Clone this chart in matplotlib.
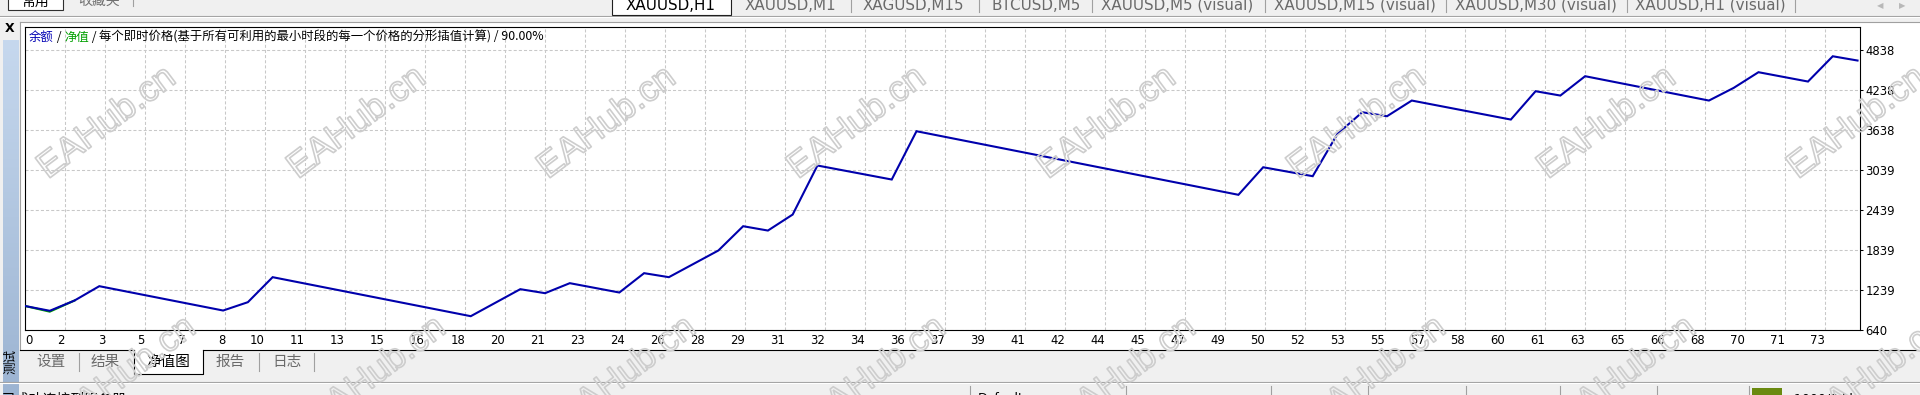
import matplotlib
matplotlib.use('Agg')
import numpy as np
import matplotlib.pyplot as plt
from matplotlib.patches import Rectangle
import matplotlib.patheffects as pe

plt.rcParams['lines.scale_dashes'] = False
plt.rcParams['font.family'] = ['DejaVu Sans']

# ---------------- data ----------------
trades = [0, 1, 2, 3, 8, 9, 10, 18, 20, 21, 22, 24, 25, 26, 27, 28, 29, 30, 31, 32,
          35, 36, 49, 50, 52, 53, 54, 55, 56, 60, 61, 62, 63, 68, 69, 70, 72, 73, 74]
balance = [1000, 928, 1082, 1297, 932, 1057, 1432, 847, 1252, 1192, 1342, 1202, 1492,
           1432, 1632, 1832, 2196, 2131, 2371, 3106, 2896, 3620, 2667, 3080, 2946, 3581,
           3905, 3845, 4080, 3795, 4220, 4155, 4445, 4080, 4270, 4505, 4365, 4744, 4680]
eq_trades = [0, 1, 2]
equity = [1000, 915, 1082]

x_tick_labels = ['0', '2', '3', '5', '7', '8', '10', '11', '13', '15', '16', '18', '20', '21',
                 '23', '24', '26', '28', '29', '31', '32', '34', '36', '37', '39', '41', '42',
                 '44', '45', '47', '49', '50', '52', '53', '55', '57', '58', '60', '61', '63',
                 '65', '66', '68', '70', '71', '73']
y_tick_labels = ['640', '1239', '1839', '2439', '3039', '3638', '4238', '4838']
Y_MIN = 640
Y_STEP = 599.7
X_MAX = 74.1

title_parts = ['余额', ' / ', '净值', ' / ',
               '每个即时价格(基于所有可利用的最小时段的每一个价格的分形插值计算) / 90.00%']
title_colors = ['#0000b4', '#000000', '#00a000', '#000000', '#000000']
symbol_tabs = ['XAUUSD,H1', 'XAUUSD,M1', 'XAGUSD,M15', 'BTCUSD,M5', 'XAUUSD,M5 (visual)',
               'XAUUSD,M15 (visual)', 'XAUUSD,M30 (visual)', 'XAUUSD,H1 (visual)']
bottom_tabs = ['设置', '结果', '净值图', '报告', '日志']
watermark = 'EAHub.cn'

CJK = ['Noto Sans CJK SC', 'DejaVu Sans']

# ---------------- figure ----------------
W, H = 1920, 395
fig = plt.figure(figsize=(W / 100, H / 100), dpi=100)
fig.patch.set_facecolor('#f0f0f0')

bg = fig.add_axes([0, 0, 1, 1], zorder=0)
bg.axis('off')

# left blue gradient strip
grad_top = np.array([0xc6, 0xd8, 0xee]) / 255
grad_bot = np.array([0x9c, 0xb4, 0xd2]) / 255
tt = np.linspace(0, 1, 200)[:, None, None]
grad = grad_top * (1 - tt) + grad_bot * tt
bg.imshow(grad, extent=(3, 19, 395, 40), origin='upper', aspect='auto', zorder=1)

bg.set_xlim(0, W)
bg.set_ylim(H, 0)

# chart window
bg.add_patch(Rectangle((20, 22), 1900, 328, fc='white', ec='none', zorder=1))
bg.plot([20, 20], [22, 350], color='#a0a0a0', lw=0.8, zorder=2)
bg.plot([20, 1920], [22, 22], color='#a0a0a0', lw=0.8, zorder=2)
# bottom border with opening for active tab
bg.plot([20, 134], [350, 350], color='#000000', lw=0.8, zorder=3)
bg.plot([203, 1920], [350, 350], color='#000000', lw=0.8, zorder=3)
bg.add_patch(Rectangle((134, 350), 69, 24, fc='white', ec='none', zorder=2))
bg.plot([134, 134, 203, 203], [350, 374, 374, 350], color='#000000', lw=0.8, zorder=3)

# top strip
bg.plot([0, 1920], [16, 16], color='#a0a0a0', lw=0.8, zorder=2)
bg.plot([0, 1920], [17, 17], color='#ffffff', lw=0.8, zorder=2)
bg.add_patch(Rectangle((8, -5), 55, 15, fc='white', ec='#303030', lw=0.8, zorder=2))
bg.text(35.5, 2, '常用', family=CJK, fontsize=10, color='#000000', ha='center', va='center', zorder=3)
bg.text(99, 1, '收藏夹', family=CJK, fontsize=10, color='#707070', ha='center', va='center', zorder=3)
bg.plot([133, 133], [0, 6], color='#a0a0a0', lw=0.8, zorder=2)

tab_centers = [671, 790, 913, 1036, 1177, 1355, 1536, 1710]
bg.add_patch(Rectangle((612, -3), 119, 18, fc='white', ec='#202020', lw=0.8, zorder=2))
for i, (lab, cx) in enumerate(zip(symbol_tabs, tab_centers)):
    bg.text(cx, 5, lab, fontsize=10.9, color='#000000' if i == 0 else '#6a6a6a',
            ha='center', va='center', zorder=3)
for sx in [851, 979, 1092, 1265, 1446, 1627, 1795]:
    bg.plot([sx, sx], [0, 12], color='#a0a0a0', lw=0.8, zorder=2)
bg.text(1880, 6, '◀', fontsize=6, color='#b8b8b8', ha='center', va='center', zorder=3)
bg.text(1902, 6, '▶', fontsize=6, color='#b8b8b8', ha='center', va='center', zorder=3)

# left strip texts
bg.text(10, 28, 'X', fontsize=9, fontweight='bold', color='#000000', ha='center', va='center', zorder=3)
bg.text(11, 362, '测试', family=CJK, fontsize=9, color='#000000', rotation=90,
        ha='center', va='center', zorder=3)

# bottom tabs
btab_centers = [51, 105, 168, 230, 287]
for lab, cx in zip(bottom_tabs, btab_centers):
    bg.text(cx, 362, lab, family=CJK, fontsize=10.5,
            color='#000000' if lab == '净值图' else '#6a6a6a', ha='center', va='center', zorder=4)
for sx in [79, 259, 314]:
    bg.plot([sx, sx], [353, 371], color='#a0a0a0', lw=0.8, zorder=3)

# status bar
bg.plot([0, 1920], [382, 382], color='#a0a0a0', lw=0.8, zorder=2)
bg.plot([0, 1920], [383, 383], color='#ffffff', lw=0.8, zorder=2)
bg.text(2, 400, '已成功连接到服务器', family=CJK, fontsize=10, color='#000000',
        ha='left', va='center', zorder=3)
for sx in [970, 1126, 1271, 1368, 1466, 1560, 1657, 1749]:
    bg.plot([sx, sx], [386, 395], color='#a0a0a0', lw=0.8, zorder=2)
bg.text(978, 399, 'Default', fontsize=9, color='#000000', ha='left', va='center', zorder=3)
bg.add_patch(Rectangle((1752, 388), 30, 8, fc='#6a8a10', ec='none', zorder=3))
bg.text(1794, 399, '1000/8 kb', fontsize=9, color='#000000', ha='left', va='center', zorder=3)

# ---------------- plot ----------------
ax = fig.add_axes([25 / W, 1 - 330 / H, 1835 / W, 303 / H], zorder=2)
ax.set_facecolor('white')
ax.plot(eq_trades, equity, color='#00a000', lw=1.5, zorder=3, solid_joinstyle='miter')
ax.plot(trades, balance, color='#0000ac', lw=1.5, zorder=4, solid_joinstyle='miter')
ax.set_xlim(0, X_MAX)
ax.set_ylim(Y_MIN, Y_MIN + 303 / 40 * Y_STEP)

xt = [k * X_MAX * 40 / 1835 for k in range(len(x_tick_labels))]
ax.set_xticks(xt)
ax.set_xticklabels(x_tick_labels)
yt = [Y_MIN + k * Y_STEP for k in range(len(y_tick_labels))]
ax.yaxis.tick_right()
ax.set_yticks(yt)
ax.set_yticklabels(y_tick_labels)

ax.grid(True, color='#c8c8c8', lw=0.75, linestyle=(0, (2.2, 1.5)))
ax.set_axisbelow(True)
ax.tick_params(axis='x', length=0, pad=3, labelsize=8.4, labelcolor='#000000')
ax.tick_params(axis='y', direction='out', length=2, width=0.75, pad=2,
               labelsize=8.4, labelcolor='#000000', right=True, left=False)
for i, lab in enumerate(ax.get_xticklabels()):
    lab.set_horizontalalignment('left' if i == 0 else 'right')
for sp in ax.spines.values():
    sp.set_color('#000000')
    sp.set_linewidth(0.8)

# ---------------- overlay: title + watermarks ----------------
ov = fig.add_axes([0, 0, 1, 1], zorder=10)
ov.axis('off')
ov.set_xlim(0, W)
ov.set_ylim(H, 0)

prev = ov.text(29, 44, title_parts[0], family=CJK, fontsize=8.9, color=title_colors[0],
               ha='left', va='bottom')
for part, col in zip(title_parts[1:], title_colors[1:]):
    prev = ov.annotate(part, xy=(1, 0), xycoords=prev, family=CJK, fontsize=8.9,
                       color=col, ha='left', va='bottom')

wm_effect = [pe.withStroke(linewidth=1.2, foreground='#cdcdcd')]
for k in range(8):
    for (cx, cy) in [(107 + 250 * k, 123), (127 + 250 * k, 373)]:
        ov.text(cx, cy, watermark, family=['Liberation Sans', 'DejaVu Sans'], fontsize=26,
                color='none', rotation=37, rotation_mode='anchor', ha='center', va='center',
                path_effects=wm_effect, zorder=20)

fig.savefig('out.png', dpi=100, facecolor=fig.get_facecolor())
